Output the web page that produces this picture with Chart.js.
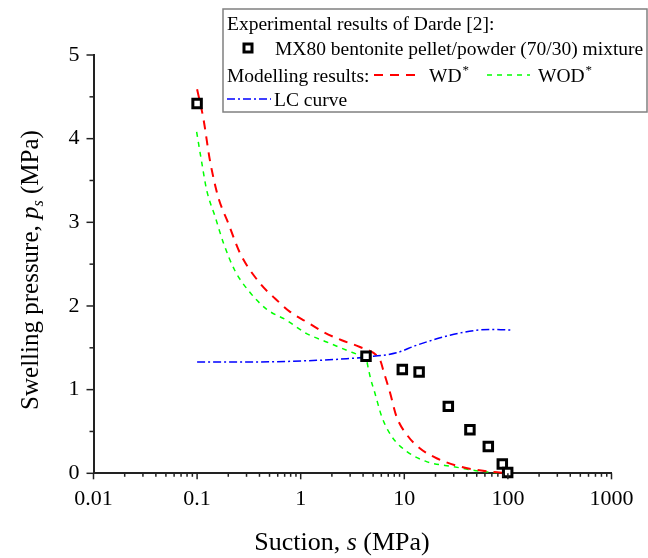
<!DOCTYPE html>
<html>
<head>
<meta charset="utf-8">
<script src="https://cdn.jsdelivr.net/npm/chart.js@4/dist/chart.umd.min.js"></script>
<style>
  body { margin: 0; background: #fff; }
  canvas { display: block; }
</style>
</head>
<body>
<canvas id="grafico" width="648" height="558"></canvas>
<script>
// dados (succao em MPa, pressao de expansao em MPa)
var ensaioX = [0.1, 4.27, 9.57, 13.9, 26.6, 43, 64.7, 88.3, 99.5];
var ensaioY = [4.42, 1.40, 1.24, 1.21, 0.80, 0.52, 0.32, 0.11, 0.01];

var wdX = [0.1, 0.115, 0.133, 0.16, 0.2, 0.26, 0.405, 0.565, 0.79, 1.14, 1.65, 2.49, 3.73, 5.4, 5.9, 6.27, 7.3, 8.4, 10.6, 14.1, 20.5, 34.5, 67, 100];
var wdY = [4.59, 4.24, 3.74, 3.30, 2.99, 2.63, 2.27, 2.09, 1.93, 1.81, 1.69, 1.59, 1.51, 1.41, 1.34, 1.23, 0.96, 0.68, 0.46, 0.30, 0.18, 0.08, 0.02, 0];

var wodX = [0.099, 0.11, 0.124, 0.149, 0.18, 0.23, 0.32, 0.47, 0.73, 1.14, 1.78, 2.78, 3.88, 4.3, 4.5, 4.73, 5.2, 6.05, 7.56, 10.6, 16.4, 29.6, 58, 112];
var wodY = [4.08, 3.74, 3.38, 3.07, 2.75, 2.43, 2.17, 1.96, 1.83, 1.67, 1.57, 1.47, 1.40, 1.36, 1.25, 1.13, 0.96, 0.68, 0.44, 0.26, 0.14, 0.08, 0.02, 0];

var lcX = [0.1, 0.32, 1.43, 2.78, 4.33, 8.4, 13.1, 27.6, 49.9, 70, 112];
var lcY = [1.33, 1.33, 1.35, 1.37, 1.39, 1.44, 1.53, 1.65, 1.71, 1.72, 1.71];

var ticksX = [0.01, 0.1, 1, 10, 100, 1000];
var ticksY = [0, 1, 2, 3, 4, 5];

var fonte = 'Liberation Serif, Times New Roman, serif';

function Pontos(xs, ys) {
    return xs.map(function (x, i) { return { x: x, y: ys[i] }; });
}

/*Eixos, titulos e legenda desenhados a mao*/
var extras = {
    id: 'extras',
    afterDraw: function (chart) {
        var ctx = chart.ctx;
        var sx = chart.scales.x, sy = chart.scales.y;
        var area = chart.chartArea;

        ctx.save();
        ctx.strokeStyle = '#222';
        ctx.lineWidth = 1.5;
        // ticks do eixo x (maiores e menores)
        for (var d = -2; d <= 2; d++) {
            for (var k = 1; k <= 9; k++) {
                var px = sx.getPixelForValue(k * Math.pow(10, d));
                var len = k === 1 ? 6 : 3.5;
                ctx.beginPath();
                ctx.moveTo(px, area.bottom);
                ctx.lineTo(px, area.bottom + len);
                ctx.stroke();
            }
        }
        var pFim = sx.getPixelForValue(1000);
        ctx.beginPath(); ctx.moveTo(pFim, area.bottom); ctx.lineTo(pFim, area.bottom + 6); ctx.stroke();
        // ticks do eixo y
        for (var v = 0; v <= 5; v += 0.5) {
            var py = sy.getPixelForValue(v);
            var l = (v % 1 === 0) ? 7 : 4;
            ctx.beginPath();
            ctx.moveTo(area.left, py);
            ctx.lineTo(area.left - l, py);
            ctx.stroke();
        }

        ctx.fillStyle = '#000';
        // titulo eixo x
        ctx.textBaseline = 'alphabetic';
        var t1 = 'Suction, ', t2 = 's', t3 = ' (MPa)';
        ctx.font = '26px ' + fonte;
        var w1 = ctx.measureText(t1).width, w3 = ctx.measureText(t3).width;
        ctx.font = 'italic 26px ' + fonte;
        var w2 = ctx.measureText(t2).width;
        var x0 = 342 - (w1 + w2 + w3) / 2;
        ctx.font = '26px ' + fonte;
        ctx.fillText(t1, x0, 550);
        ctx.font = 'italic 26px ' + fonte;
        ctx.fillText(t2, x0 + w1, 550);
        ctx.font = '26px ' + fonte;
        ctx.fillText(t3, x0 + w1 + w2, 550);

        // titulo eixo y
        ctx.save();
        ctx.translate(38, 270);
        ctx.rotate(-Math.PI / 2);
        var a = 'Swelling pressure, ', b = 'p', c = 's', e = ' (MPa)';
        ctx.font = '25px ' + fonte;
        var wa = ctx.measureText(a).width, we = ctx.measureText(e).width;
        ctx.font = 'italic 25px ' + fonte;
        var wb = ctx.measureText(b).width;
        ctx.font = 'italic 16px ' + fonte;
        var wc = ctx.measureText(c).width;
        var y0 = -(wa + wb + wc + we) / 2;
        ctx.font = '25px ' + fonte;
        ctx.fillText(a, y0, 0);
        ctx.font = 'italic 25px ' + fonte;
        ctx.fillText(b, y0 + wa, 0);
        ctx.font = 'italic 16px ' + fonte;
        ctx.fillText(c, y0 + wa + wb, 5);
        ctx.font = '25px ' + fonte;
        ctx.fillText(e, y0 + wa + wb + wc, 0);
        ctx.restore();

        // legenda
        ctx.fillStyle = '#fff';
        ctx.fillRect(223, 9, 424, 103);
        ctx.strokeStyle = '#808080';
        ctx.lineWidth = 1.5;
        ctx.strokeRect(223, 9, 424, 103);

        ctx.fillStyle = '#000';
        ctx.font = '19.5px ' + fonte;
        ctx.fillText('Experimental results of Darde [2]:', 227, 30);

        ctx.fillStyle = '#fff';
        ctx.strokeStyle = '#000';
        ctx.lineWidth = 3;
        ctx.fillRect(244, 44, 8, 8);
        ctx.strokeRect(244, 44, 8, 8);
        ctx.fillStyle = '#000';
        ctx.fillText('MX80 bentonite pellet/powder (70/30) mixture', 275, 55);

        ctx.fillText('Modelling results:', 227, 82);
        ctx.lineWidth = 2;
        ctx.strokeStyle = '#ff0000';
        ctx.setLineDash([9, 7]);
        ctx.beginPath(); ctx.moveTo(374, 75); ctx.lineTo(422, 75); ctx.stroke();
        ctx.lineWidth = 1.5;
        ctx.strokeStyle = '#00ff00';
        ctx.setLineDash([5, 5]);
        ctx.beginPath(); ctx.moveTo(487, 75); ctx.lineTo(530, 75); ctx.stroke();
        ctx.strokeStyle = '#0000ff';
        ctx.setLineDash([8, 3, 2, 3]);
        ctx.beginPath(); ctx.moveTo(227, 99); ctx.lineTo(271, 99); ctx.stroke();
        ctx.setLineDash([]);

        ctx.fillText('WD', 429, 82);
        var wWD = ctx.measureText('WD').width;
        ctx.fillText('WOD', 538, 82);
        var wWOD = ctx.measureText('WOD').width;
        ctx.font = '13px ' + fonte;
        ctx.fillText('*', 429 + wWD + 1, 74);
        ctx.fillText('*', 538 + wWOD + 1, 74);
        ctx.font = '19.5px ' + fonte;
        ctx.fillText('LC curve', 274, 106);

        ctx.restore();
    }
};

var ctx = document.getElementById('grafico').getContext('2d');

var grafico = new Chart(ctx, {
    type: 'scatter',
    data: {
        datasets: [{
            label: 'MX80 bentonite pellet/powder (70/30) mixture',
            data: Pontos(ensaioX, ensaioY),
            pointStyle: 'rect',
            pointRadius: 6,
            pointBorderWidth: 3,
            pointBorderColor: '#000',
            pointBackgroundColor: '#fff',
            showLine: false,
            clip: false,
            order: 0
        }, {
            label: 'WD*',
            data: Pontos(wdX, wdY),
            showLine: true,
            borderColor: '#ff0000',
            borderWidth: 2,
            borderDash: [9, 7],
            pointRadius: 0,
            cubicInterpolationMode: 'monotone',
            clip: false,
            order: 2
        }, {
            label: 'WOD*',
            data: Pontos(wodX, wodY),
            showLine: true,
            borderColor: '#00ff00',
            borderWidth: 1.5,
            borderDash: [5, 5],
            pointRadius: 0,
            cubicInterpolationMode: 'monotone',
            clip: false,
            order: 3
        }, {
            label: 'LC curve',
            data: Pontos(lcX, lcY),
            showLine: true,
            borderColor: '#0000ff',
            borderWidth: 1.5,
            borderDash: [8, 3, 2, 3],
            pointRadius: 0,
            cubicInterpolationMode: 'monotone',
            clip: false,
            order: 1
        }]
    },
    options: {
        responsive: false,
        animation: false,
        layout: { padding: { left: 0, top: 55, right: 36.5, bottom: 24.7 } },
        plugins: {
            legend: { display: false },
            tooltip: { enabled: false }
        },
        scales: {
            x: {
                type: 'logarithmic',
                min: 0.01,
                max: 1000,
                grid: { display: false, drawTicks: false },
                border: { display: true, color: '#222', width: 2 },
                ticks: {
                    color: '#000',
                    padding: 13,
                    font: { family: fonte, size: 22 },
                    maxRotation: 0,
                    autoSkip: false,
                    callback: function (v) { return String(v); }
                },
                afterBuildTicks: function (s) {
                    s.ticks = ticksX.map(function (v) { return { value: v }; });
                },
                afterFit: function (s) { s.height = 60; }
            },
            y: {
                min: 0,
                max: 5,
                grid: { display: false, drawTicks: false },
                border: { display: true, color: '#222', width: 2 },
                ticks: {
                    color: '#000',
                    padding: 14,
                    font: { family: fonte, size: 22 },
                    callback: function (v) { return String(v); }
                },
                afterBuildTicks: function (s) {
                    s.ticks = ticksY.map(function (v) { return { value: v }; });
                },
                afterFit: function (s) { s.width = 93.5; }
            }
        }
    },
    plugins: [extras]
});
</script>
</body>
</html>
